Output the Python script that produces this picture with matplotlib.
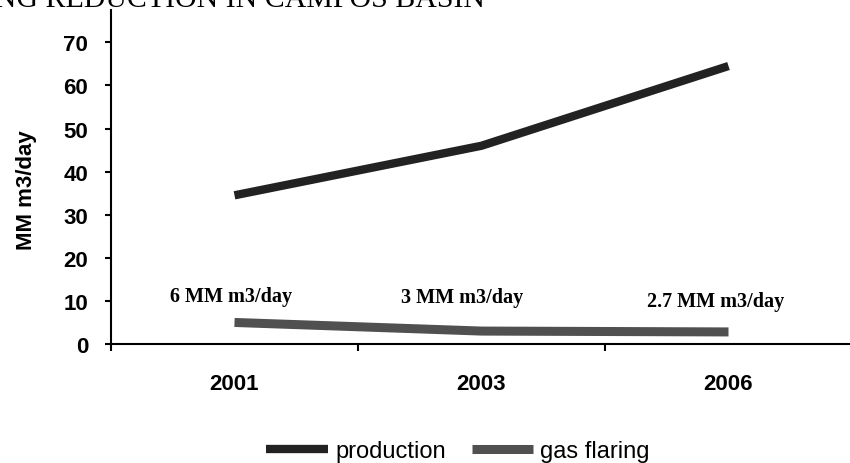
import numpy as np
import matplotlib
matplotlib.use("Agg")
import matplotlib.pyplot as plt

# data
years = ["2001", "2003", "2006"]
production = [34.5, 46, 64.5]
gas_flaring = [5, 3, 2.8]
flare_labels = ["6 MM m3/day", "3 MM m3/day", "2.7 MM m3/day"]

fig = plt.figure(figsize=(8.5, 4.64), dpi=100)
ax = fig.add_axes([111 / 850, 1 - 345 / 464, 741 / 850, 334 / 464])

x = np.arange(len(years))
ax.plot(x, production, color="#222222", lw=6, solid_capstyle="butt", label="production")
ax.plot(x, gas_flaring, color="#505050", lw=6.5, solid_capstyle="butt", label="gas flaring")

# data labels for flaring (offsets in pixels)
offsets = [(-3, 26), (-19, 34), (-13, 31)]
for i, (lab, off) in enumerate(zip(flare_labels, offsets)):
    ax.annotate(lab, (x[i], gas_flaring[i]), xytext=off, textcoords="offset pixels",
                ha="center", va="center", family="Liberation Serif", fontweight="bold",
                fontsize=14.5)

ax.set_xlim(-0.5, 2.5)
ax.set_ylim(0, 77.5)
ax.set_yticks(np.arange(0, 80, 10))
ax.tick_params(axis="y", direction="out", length=4.5, width=1.5, pad=12,
               labelsize=16)
for t in ax.get_yticklabels():
    t.set_fontweight("bold")
    t.set_family("Liberation Sans")

# category boundaries as major ticks, year names as minor
ax.set_xticks([-0.5, 0.5, 1.5])
ax.set_xticklabels([])
ax.tick_params(axis="x", which="major", direction="out", length=5, width=1.5)
ax.set_xticks(x, minor=True)
ax.set_xticklabels(years, minor=True, fontweight="bold", family="Liberation Sans", fontsize=16)
ax.tick_params(axis="x", which="minor", length=0, pad=21)

ax.set_ylabel("MM m3/day", fontweight="bold", family="Liberation Sans", fontsize=16)
ax.yaxis.set_label_coords((37 - 111) / 741, (345 - 190) / 334)

for s in ["top", "right"]:
    ax.spines[s].set_visible(False)
for s in ["left", "bottom"]:
    ax.spines[s].set_linewidth(1.5)
    ax.spines[s].set_color("black")

fig.text(485 / 850, 1 - 7 / 464, "GAS FLARING REDUCTION IN CAMPOS BASIN", ha="right",
         va="baseline", family="Liberation Serif", fontsize=21.5)

fig.legend(loc="center", bbox_to_anchor=(458 / 850, 1 - 452 / 464), ncol=2, frameon=False,
           prop={"family": "Liberation Sans", "size": 17}, handlelength=2.6,
           handletextpad=0.3, columnspacing=1.1)

fig.savefig("out.png", dpi=100)
